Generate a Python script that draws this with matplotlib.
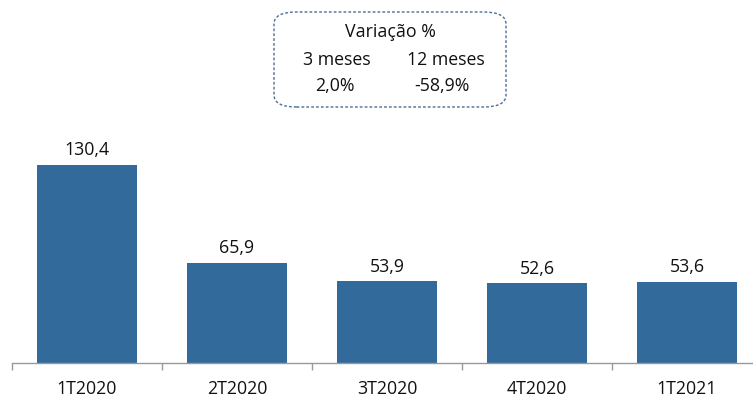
import matplotlib
matplotlib.use("Agg")
import matplotlib.pyplot as plt
from matplotlib.patches import FancyBboxPatch

categories = ["1T2020", "2T2020", "3T2020", "4T2020", "1T2021"]
values = [130.4, 65.9, 53.9, 52.6, 53.6]
value_labels = ["130,4", "65,9", "53,9", "52,6", "53,6"]
box_title = "Variação %"
box_headers = ["3 meses", "12 meses"]
box_values = ["2,0%", "-58,9%"]

plt.rcParams["font.family"] = ["Open Sans", "DejaVu Sans"]

W, H = 753, 400
FS = 12.8
TXT = "#111111"
fig = plt.figure(figsize=(W / 100, H / 100), dpi=100)
ax = fig.add_axes([12 / W, (H - 363) / H, (W - 12) / W, 198 / H])

bar_color = "#336A9C"
ax.bar(range(len(values)), values, width=0.667, color=bar_color, zorder=2)
ax.set_xlim(-0.5, -0.5 + (W - 12) / 150)
ax.set_ylim(0, 130.4)

for i, (v, lab) in enumerate(zip(values, value_labels)):
    ax.annotate(lab, (i, v), xytext=(0, 4), textcoords="offset points",
                ha="center", va="bottom", fontsize=FS, color=TXT)

ax.set_xticks(range(len(categories)))
ax.set_xticklabels(categories, fontsize=FS, color=TXT)
ax.tick_params(axis="x", length=0, pad=12.5)
ax.set_xticks([i - 0.5 for i in range(len(categories))], minor=True)
ax.tick_params(axis="x", which="minor", length=5, color="#999999", width=1)
ax.set_yticks([])
for s in ["top", "right", "left"]:
    ax.spines[s].set_visible(False)
ax.spines["bottom"].set_color("#999999")
ax.spines["bottom"].set_linewidth(1)

# Variation box
bx0, by0, bx1, by1 = 274, 12, 506, 107
box = FancyBboxPatch((bx0 / W, 1 - by1 / H), (bx1 - bx0) / W, (by1 - by0) / H,
                     boxstyle="round,pad=0,rounding_size=0.03",
                     transform=fig.transFigure, facecolor="white",
                     edgecolor="#4A6F94", linewidth=1, linestyle=(0, (2, 1.5)))
fig.add_artist(box)
fig.text(390 / W, 1 - 32 / H, box_title, ha="center", va="center", fontsize=FS, color=TXT)
fig.text(337 / W, 1 - 60 / H, box_headers[0], ha="center", va="center", fontsize=FS, color=TXT)
fig.text(446 / W, 1 - 60 / H, box_headers[1], ha="center", va="center", fontsize=FS, color=TXT)
fig.text(335 / W, 1 - 86 / H, box_values[0], ha="center", va="center", fontsize=FS, color=TXT)
fig.text(442 / W, 1 - 86 / H, box_values[1], ha="center", va="center", fontsize=FS, color=TXT)

fig.savefig("out.png", dpi=100)
